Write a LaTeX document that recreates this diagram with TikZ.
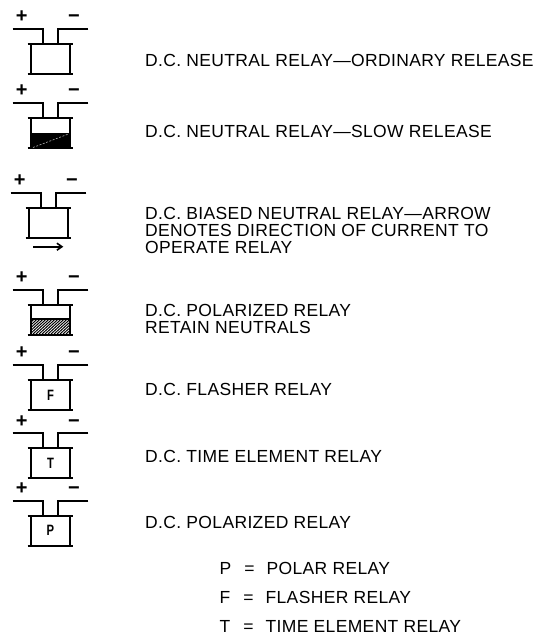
\documentclass[tikz,border=0pt]{standalone}
\usepackage{fontspec}
\setmainfont{Liberation Sans}
\newfontfamily\cadfont[LetterSpace=2]{Liberation Sans}
\usetikzlibrary{arrows.meta}
\tikzset{
  wire/.style={line width=1.8pt, line cap=butt},
  lbl/.style={anchor=base west, inner sep=0pt, font=\cadfont\fontsize{17.5}{18}\selectfont},
  sign/.style={anchor=base, inner sep=0pt, font=\fontsize{20}{20}\selectfont\bfseries},
  codeletter/.style={inner sep=0pt, font=\fontsize{15}{15}\selectfont\bfseries},
  relay/.pic={
    \draw[wire] (12.7,0) -- (43.3,0) -- (43.3,15);
    \draw[wire] (88.3,0) -- (58.3,0) -- (58.3,15);
    \draw[wire] (27.7,15) -- (73.3,15);
    \draw[wire] (27.7,45) -- (73.3,45);
    \draw[wire] (31,15) -- (31,45);
    \draw[wire] (70,15) -- (70,45);
    \node[sign] (-plus) at (21.7,-6.3) {+};
    \node[sign] (-minus) at (74,-6.3) {−};
    \coordinate (-c) at (50.5,30);
  }
}
\begin{document}
\begin{tikzpicture}[x=1pt,y=-1pt]
\useasboundingbox (0,0) rectangle (535,636);

% symbols
\pic (r1) at (0,29) {relay};
\pic (r2) at (0,103.3) {relay};
\pic (r3) at (-2,193.3) {relay};
\pic (r4) at (0,290) {relay};
\pic (r5) at (0,365) {relay};
\pic (r6) at (0,433.3) {relay};
\pic (r7) at (0,500.7) {relay};

% slow release fill
\fill[black] (31,133.3) rectangle (70,148.3);
\draw[gray!60, line width=0.6pt, dash pattern=on 2pt off 1.5pt] (33,147.5) -- (69,133.8);

% biased arrow
\coordinate (a1) at (33.3,246.7);
\coordinate (a2) at (63.3,246.7);
\draw[line width=1.6pt, -{Straight Barb[length=5pt,width=7pt]}] (a1) -- (a2);

% polarized hatch
\begin{scope}
  \clip (31,319.3) rectangle (70,334);
  \foreach \i in {0,3,...,60} {
    \draw[line width=1pt] (31+\i-16,334) -- (31+\i,319.3);
  }
\end{scope}
\draw[wire] (31,319.3) -- (70,319.3);

% code letters
\node[codeletter] (cF) at (r5-c) {\scalebox{0.75}[1]{F}};
\node[codeletter] (cT) at (r6-c) {\scalebox{0.75}[1]{T}};
\node[codeletter] (cP) at (r7-c) {\scalebox{0.75}[1]{P}};

% descriptions
\node[lbl] (t1) at (145,67) {D.C. NEUTRAL RELAY—ORDINARY RELEASE};
\node[lbl] (t2) at (145,138) {D.C. NEUTRAL RELAY—SLOW RELEASE};
\node[lbl] (t3a) at (145,219) {D.C. BIASED NEUTRAL RELAY—ARROW};
\node[lbl] (t3b) at (145,236.3) {DENOTES DIRECTION OF CURRENT TO};
\node[lbl] (t3c) at (145,253.6) {OPERATE RELAY};
\node[lbl] (t4a) at (145,316.3) {D.C. POLARIZED RELAY};
\node[lbl] (t4b) at (145,333.6) {RETAIN NEUTRALS};
\node[lbl] (t5) at (145,395.3) {D.C. FLASHER RELAY};
\node[lbl] (t6) at (145,462.3) {D.C. TIME ELEMENT RELAY};
\node[lbl] (t7) at (145,528.3) {D.C. POLARIZED RELAY};

% legend
\node[lbl] (l1) at (219.5,574.3) {P\hspace{13pt}=\hspace{12pt}POLAR RELAY};
\node[lbl] (l2) at (219.5,603.3) {F\hspace{13pt}=\hspace{12pt}FLASHER RELAY};
\node[lbl] (l3) at (219.5,632.3) {T\hspace{13pt}=\hspace{12pt}TIME ELEMENT RELAY};
\end{tikzpicture}
\end{document}
